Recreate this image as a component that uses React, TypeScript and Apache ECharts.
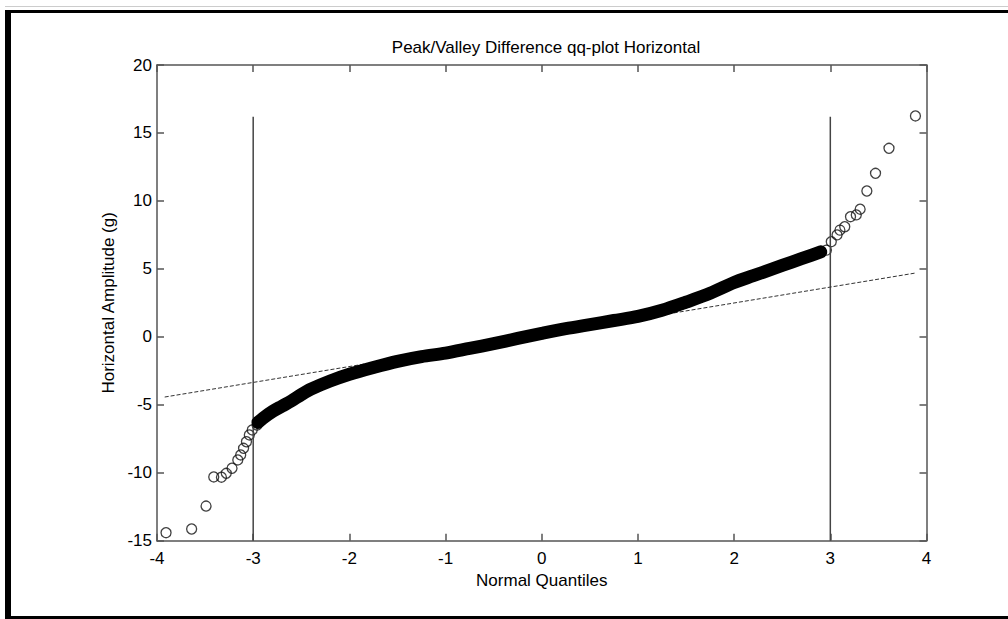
import React, { useEffect, useRef } from "react";
import * as echarts from "echarts";

const FONT = "'Liberation Sans', Arial, sans-serif";

// Dense central band of the qq-plot (normal quantile, sample quantile)
const bandX = [-2.95, -2.9, -2.8, -2.7, -2.6, -2.5, -2.4, -2.2, -2.0, -1.75, -1.5, -1.25, -1.0, -0.75, -0.5, -0.25, 0, 0.25, 0.5, 0.75, 1.0, 1.25, 1.5, 1.75, 2.0, 2.2, 2.4, 2.6, 2.8, 2.9];
const bandY = [-6.3, -6.0, -5.5, -5.1, -4.7, -4.25, -3.85, -3.25, -2.75, -2.25, -1.8, -1.45, -1.2, -0.85, -0.5, -0.12, 0.25, 0.6, 0.9, 1.2, 1.5, 1.95, 2.55, 3.2, 4.0, 4.5, 5.0, 5.5, 6.0, 6.25];

// Individual tail points
const tailX = [-3.906, -3.64, -3.49, -3.41, -3.33, -3.28, -3.22, -3.16, -3.13, -3.10, -3.07, -3.04, -3.01, -2.96, 2.96, 3.01, 3.07, 3.10, 3.15, 3.21, 3.27, 3.31, 3.38, 3.47, 3.61, 3.885];
const tailY = [-14.41, -14.14, -12.45, -10.31, -10.33, -10.04, -9.67, -9.06, -8.69, -8.2, -7.72, -7.22, -6.85, -6.49, 6.38, 7.0, 7.5, 7.85, 8.1, 8.84, 8.97, 9.39, 10.73, 12.03, 13.87, 16.25];

// Reference (fit) line end points
const refX = [-3.92, 3.89];
const refY = [-4.43, 4.7];

// Vertical marker lines at ±3
const markerX = [-3, 3];
const markerYRange = [-15, 16.2];

export default function App() {
  const ref = useRef<HTMLDivElement>(null);
  useEffect(() => {
    if (!ref.current) return;
    const chart = echarts.init(ref.current, undefined, { renderer: "svg" });
    const axisLineStyle = { color: "#555", width: 1.5 };
    const xBase = { type: "value", min: -4, max: 4, interval: 1, splitLine: { show: false } };
    const yBase = { type: "value", min: -15, max: 20, interval: 5, splitLine: { show: false } };
    const labelStyle = { color: "#000", fontSize: 17, fontFamily: FONT, showMinLabel: true, showMaxLabel: true };
    chart.setOption({
      animation: false,
      backgroundColor: "#fff",
      title: {
        text: "Peak/Valley Difference qq-plot Horizontal",
        left: 541,
        top: 34,
        textAlign: "center",
        textStyle: { color: "#000", fontSize: 17, fontWeight: "normal", fontFamily: FONT },
      },
      grid: { left: 157, right: 81.5, top: 65, bottom: 78.3 },
      xAxis: [
        {
          ...xBase,
          position: "bottom",
          axisLine: { show: true, onZero: false, lineStyle: axisLineStyle },
          axisTick: { show: true, inside: true, length: 7, lineStyle: axisLineStyle },
          axisLabel: { ...labelStyle, margin: 9 },
          name: "Normal Quantiles",
          nameLocation: "middle",
          nameGap: 30,
          nameTextStyle: { color: "#000", fontSize: 17, fontFamily: FONT },
        },
        {
          ...xBase,
          position: "top",
          axisLine: { show: true, onZero: false, lineStyle: axisLineStyle },
          axisTick: { show: true, inside: true, length: 7, lineStyle: axisLineStyle },
          axisLabel: { show: false },
        },
      ],
      yAxis: [
        {
          ...yBase,
          position: "left",
          axisLine: { show: true, onZero: false, lineStyle: axisLineStyle },
          axisTick: { show: true, inside: true, length: 7, lineStyle: axisLineStyle },
          axisLabel: { ...labelStyle, margin: 5 },
          name: "Horizontal Amplitude (g)",
          nameLocation: "middle",
          nameGap: 40,
          nameTextStyle: { color: "#000", fontSize: 17, fontFamily: FONT },
        },
        {
          ...yBase,
          position: "right",
          axisLine: { show: true, onZero: false, lineStyle: axisLineStyle },
          axisTick: { show: true, inside: true, length: 7, lineStyle: axisLineStyle },
          axisLabel: { show: false },
        },
      ],
      series: [
        {
          type: "line",
          xAxisIndex: 0,
          yAxisIndex: 0,
          data: markerYRange.map((y) => [markerX[0], y]),
          symbol: "none",
          lineStyle: { color: "#444", width: 1.5 },
          silent: true,
        },
        {
          type: "line",
          xAxisIndex: 0,
          yAxisIndex: 0,
          data: markerYRange.map((y) => [markerX[1], y]),
          symbol: "none",
          lineStyle: { color: "#444", width: 1.5 },
          silent: true,
        },
        {
          type: "line",
          xAxisIndex: 0,
          yAxisIndex: 0,
          data: refX.map((x, i) => [x, refY[i]]),
          symbol: "none",
          lineStyle: { color: "#333", width: 1, type: [4, 2] },
          silent: true,
        },
        {
          type: "line",
          xAxisIndex: 0,
          yAxisIndex: 0,
          data: bandX.map((x, i) => [x, bandY[i]]),
          symbol: "none",
          smooth: 0.3,
          lineStyle: { color: "#000", width: 13, cap: "round", join: "round" },
          silent: true,
        },
        {
          type: "scatter",
          xAxisIndex: 0,
          yAxisIndex: 0,
          data: tailX.map((x, i) => [x, tailY[i]]),
          symbol: "circle",
          symbolSize: 10,
          itemStyle: { color: "rgba(0,0,0,0)", borderColor: "#111", borderWidth: 1.3 },
          silent: true,
        },
      ],
      graphic: [
        { type: "line", shape: { x1: 5, y1: 6.5, x2: 1008, y2: 6.5 }, style: { stroke: "#ccc", lineWidth: 1 } },
        { type: "rect", shape: { x: 5, y: 10, width: 1003, height: 3 }, style: { fill: "#000" } },
        { type: "rect", shape: { x: 5, y: 10, width: 6, height: 609 }, style: { fill: "#000" } },
        { type: "rect", shape: { x: 5, y: 616, width: 1003, height: 3 }, style: { fill: "#000" } },
      ],
    });
    return () => chart.dispose();
  }, []);
  return (
    <div
      ref={ref}
      style={{ position: "fixed", left: 0, top: 0, width: 1008, height: 619 }}
    />
  );
}
